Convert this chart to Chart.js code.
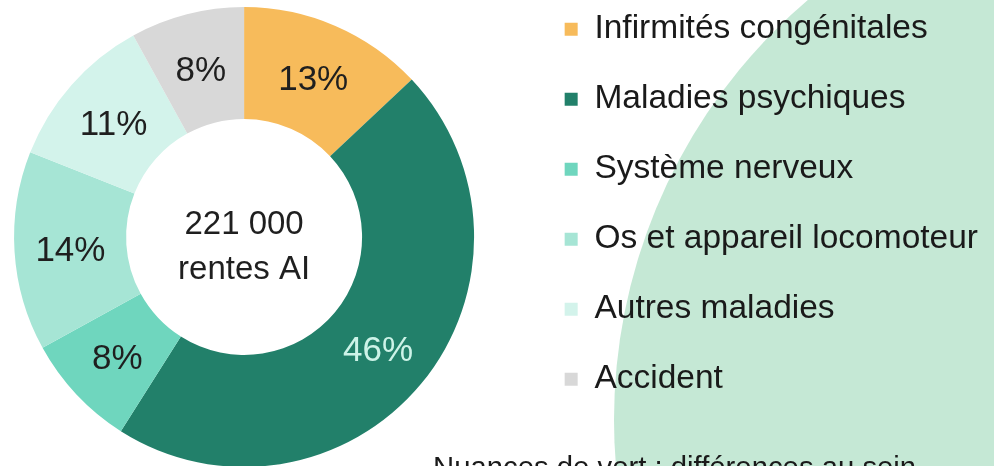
<!DOCTYPE html>
<html>
<head>
<meta charset="utf-8">
<script src="https://cdn.jsdelivr.net/npm/chart.js@4.4.1/dist/chart.umd.min.js"></script>
<style>
  html, body { margin:0; padding:0; width:994px; height:466px; overflow:hidden; background:#ffffff; position:relative;
    font-family:"Liberation Sans", Arial, sans-serif; }
  #bg { position:absolute; left:614px; top:-132px; width:1104px; height:1104px; border-radius:50%; background:#C5E8D5; }
  #wrap { position:absolute; left:-40px; top:-24px; width:1034px; height:528px; }
  #note { position:absolute; left:433px; top:452px; font-size:29.3px; line-height:30px; color:#1a1a1a; white-space:nowrap; }
</style>
</head>
<body>
<div id="bg"></div>
<div id="wrap"><canvas id="c" width="1034" height="528"></canvas></div>
<div id="note"></div>
<script>
// ---- data ----
const categories = ['Infirmités congénitales', 'Maladies psychiques', 'Système nerveux', 'Os et appareil locomoteur', 'Autres maladies', 'Accident'];
const shares = [13, 46, 8, 14, 11, 8];
const sliceColors = ['#F7BB5B', '#22806A', '#6FD6BE', '#A6E5D5', '#D3F3EB', '#D8D8D8'];
const labelColors = ['#1f1f1f', '#CDF3E8', '#1f1f1f', '#1f1f1f', '#1f1f1f', '#1f1f1f'];
const centerLines = ['221 000', 'rentes AI'];
const noteText = 'Nuances de vert : différences au sein';

document.getElementById('note').textContent = noteText;

Chart.defaults.font.family = '"Liberation Sans", Arial, sans-serif';

const sliceLabels = {
  id: 'sliceLabels',
  afterDatasetsDraw(chart) {
    const ctx = chart.ctx;
    const meta = chart.getDatasetMeta(0);
    ctx.save();
    ctx.font = '35px "Liberation Sans", Arial, sans-serif';
    ctx.textAlign = 'center';
    ctx.textBaseline = 'middle';
    meta.data.forEach((arc, i) => {
      const p = arc.getProps(['x', 'y', 'startAngle', 'endAngle', 'innerRadius', 'outerRadius'], true);
      const a = (p.startAngle + p.endAngle) / 2;
      const r = (p.innerRadius + p.outerRadius) / 2;
      ctx.fillStyle = labelColors[i];
      ctx.fillText(shares[i] + '%', p.x + r * Math.cos(a), p.y + r * Math.sin(a) + 3);
    });
    // centre text
    const arc0 = meta.data[0];
    const cx = arc0.x, cy = arc0.y;
    ctx.font = '33px "Liberation Sans", Arial, sans-serif';
    ctx.fillStyle = '#1f1f1f';
    ctx.fillText(centerLines[0], cx, cy - 12);
    ctx.fillText(centerLines[1], cx, cy + 33);
    ctx.restore();
  }
};

new Chart(document.getElementById('c'), {
  type: 'doughnut',
  data: {
    labels: categories,
    datasets: [{
      data: shares,
      backgroundColor: sliceColors,
      borderWidth: 0,
      radius: 230,
      cutout: '51.3%',
      clip: false
    }]
  },
  options: {
    responsive: false,
    animation: false,
    devicePixelRatio: 1,
    events: [],
    layout: { padding: { left: 0, top: 0, right: 6, bottom: 6 } },
    plugins: {
      tooltip: { enabled: false },
      legend: {
        position: 'right',
        align: 'start',
        labels: {
          font: { size: 33.5 },
          color: '#1a1a1a',
          boxWidth: 13,
          boxHeight: 13,
          padding: 36.5
        }
      }
    }
  },
  plugins: [sliceLabels]
});
</script>
</body>
</html>
